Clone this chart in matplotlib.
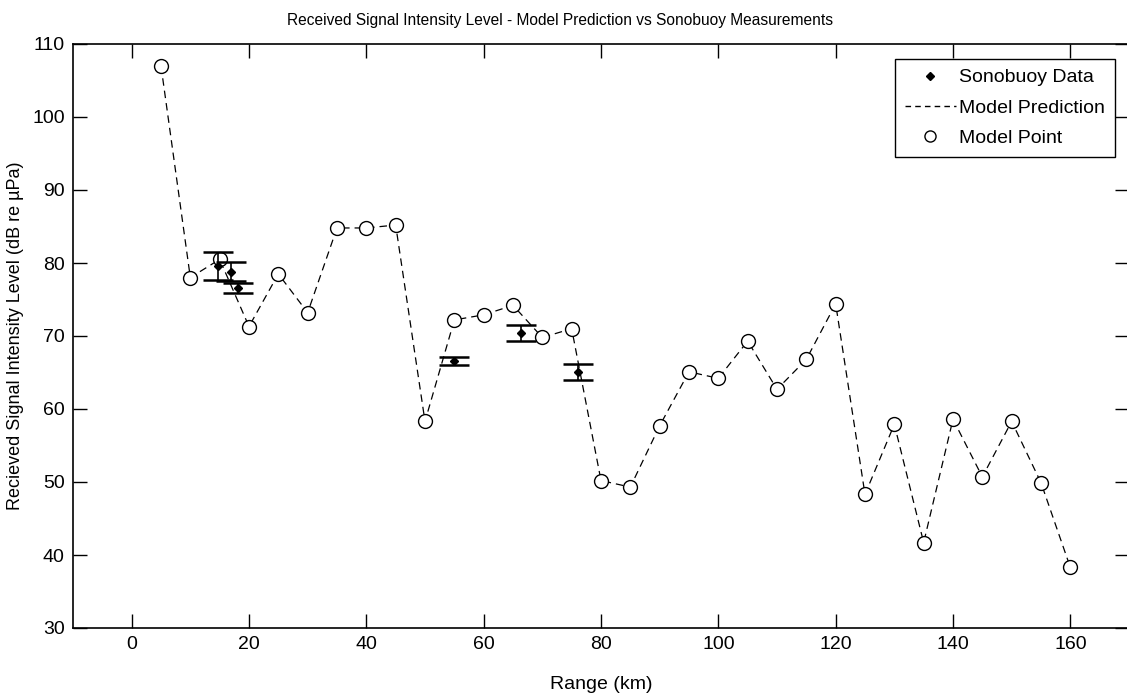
import matplotlib
matplotlib.use("Agg")
import matplotlib.pyplot as plt
from matplotlib.lines import Line2D

plt.rcParams['font.family'] = ['Liberation Sans', 'DejaVu Sans']

# Model prediction points
model_range = [5, 10, 15, 20, 25, 30, 35, 40, 45, 50, 55, 60, 65, 70, 75, 80,
               85, 90, 95, 100, 105, 110, 115, 120, 125, 130, 135, 140, 145,
               150, 155, 160]
model_level = [107.0, 78.0, 80.5, 71.3, 78.5, 73.2, 84.8, 84.8, 85.2, 58.3,
               72.2, 72.9, 74.2, 69.8, 71.0, 50.2, 49.3, 57.7, 65.1, 64.2,
               69.3, 62.7, 66.8, 74.4, 48.3, 57.9, 41.7, 58.6, 50.7, 58.3,
               49.9, 38.3]

# Sonobuoy measurements
sono_range = [14.7, 16.9, 18.1, 54.9, 66.4, 76.1]
sono_level = [79.6, 78.8, 76.6, 66.6, 70.4, 65.1]
sono_err = [1.9, 1.3, 0.65, 0.55, 1.1, 1.1]

xticks = [0, 20, 40, 60, 80, 100, 120, 140, 160]
yticks = [30, 40, 50, 60, 70, 80, 90, 100, 110]

fig = plt.figure(figsize=(11.27, 6.98), dpi=100)
ax = fig.add_axes([73/1127, 1 - 628/698, (1129 - 73)/1127, (628 - 44)/698])

ax.errorbar(sono_range, sono_level, yerr=sono_err, fmt='D', color='black',
            markersize=4, capsize=11, elinewidth=1.2, capthick=1.8, zorder=3)
ax.plot(model_range, model_level, linestyle=(0, (6, 4)), color='black',
        linewidth=0.9, zorder=2)
ax.plot(model_range, model_level, linestyle='none', marker='o', markersize=10,
        markerfacecolor='white', markeredgecolor='black', markeredgewidth=1.0,
        zorder=2)

ax.set_xlim(-10, 170)
ax.set_ylim(30, 110)
ax.set_xticks(xticks)
ax.set_yticks(yticks)
ax.tick_params(direction='in', length=10, width=1, top=True, right=True,
               labelsize=14, pad=6)
for s in ax.spines.values():
    s.set_linewidth(1.2)

ax.set_title('Received Signal Intensity Level - Model Prediction vs Sonobuoy Measurements',
             fontsize=11.2, pad=14, x=(560 - 73) / 1056)
ax.set_xlabel('Range (km)', fontsize=14, labelpad=16)
ax.set_ylabel('Recieved Signal Intensity Level (dB re µPa)', fontsize=13,
              labelpad=6)

handles = [
    Line2D([], [], linestyle='none', marker='D', color='black', markersize=4),
    Line2D([], [], linestyle=(0, (4, 3)), color='black', linewidth=1.0),
    Line2D([], [], linestyle='none', marker='o', markersize=8,
           markerfacecolor='white', markeredgecolor='black'),
]
labels = ['Sonobuoy Data', 'Model Prediction', 'Model Point']
leg = ax.legend(handles, labels, loc='upper right',
                bbox_to_anchor=(1115/1127, 1 - 59/698),
                bbox_transform=fig.transFigure, borderaxespad=0,
                fontsize=14, fancybox=False,
                framealpha=1, edgecolor='black', borderpad=0.5,
                handlelength=2.6, handletextpad=0.2, labelspacing=0.65)
leg.get_frame().set_linewidth(1.0)

fig.savefig('out.png', dpi=100, facecolor='white')
